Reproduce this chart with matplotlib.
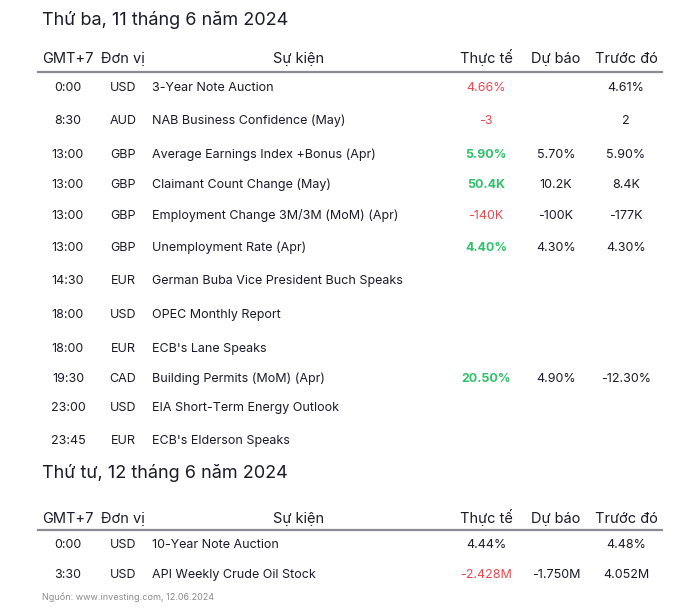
"""
Economic calendar (investing.com) for 11-12 June 2024, drawn as a text table.
"""

import matplotlib.pyplot as plt
from matplotlib.lines import Line2D

# Data
day1_title = "Thứ ba, 11 tháng 6 năm 2024"
day1_times = ["0:00", "8:30", "13:00", "13:00", "13:00", "13:00", "14:30",
              "18:00", "18:00", "19:30", "23:00", "23:45"]
day1_units = ["USD", "AUD", "GBP", "GBP", "GBP", "GBP", "EUR",
              "USD", "EUR", "CAD", "USD", "EUR"]
day1_events = ["3-Year Note Auction",
               "NAB Business Confidence (May)",
               "Average Earnings Index +Bonus (Apr)",
               "Claimant Count Change (May)",
               "Employment Change 3M/3M (MoM) (Apr)",
               "Unemployment Rate (Apr)",
               "German Buba Vice President Buch Speaks",
               "OPEC Monthly Report",
               "ECB's Lane Speaks",
               "Building Permits (MoM) (Apr)",
               "EIA Short-Term Energy Outlook",
               "ECB's Elderson Speaks"]
day1_actual = ["4.66%", "-3", "5.90%", "50.4K", "-140K", "4.40%", "",
               "", "", "20.50%", "", ""]
day1_signal = ["down", "down", "up", "up", "down", "up", "",
               "", "", "up", "", ""]
day1_forecast = ["", "", "5.70%", "10.2K", "-100K", "4.30%", "",
                 "", "", "4.90%", "", ""]
day1_previous = ["4.61%", "2", "5.90%", "8.4K", "-177K", "4.30%", "",
                 "", "", "-12.30%", "", ""]

day2_title = "Thứ tư, 12 tháng 6 năm 2024"
day2_times = ["0:00", "3:30"]
day2_units = ["USD", "USD"]
day2_events = ["10-Year Note Auction", "API Weekly Crude Oil Stock"]
day2_actual = ["4.44%", "-2.428M"]
day2_signal = ["", "down"]
day2_forecast = ["", "-1.750M"]
day2_previous = ["4.48%", "4.052M"]

headers = ["GMT+7", "Đơn vị", "Sự kiện", "Thực tế", "Dự báo", "Trước đó"]
source = "Nguồn: www.investing.com, 12.06.2024"

# Layout (pixels from top-left, y = text baseline)
W, H = 700, 610
FONT = ["Inter", "DejaVu Sans"]
TXT = "#1b1b2b"
SIG_COL = {"up": "#2fc26b", "down": "#f0474f", "": TXT}

fig = plt.figure(figsize=(W / 100, H / 100), dpi=100)
fig.patch.set_facecolor("white")


def put(x, y, s, **kw):
    kw.setdefault("family", FONT)
    kw.setdefault("color", TXT)
    kw.setdefault("va", "baseline")
    fig.text(x / W, 1 - y / H, s, **kw)


def section(title, title_y, head_y, line_y, row_ys, times, units, events,
            actual, signal, forecast, previous):
    put(42, title_y, title, fontsize=13, ha="left")
    put(42, head_y, headers[0], fontsize=10.5, ha="left")
    put(101, head_y, headers[1], fontsize=10.5, ha="left")
    put(299, head_y, headers[2], fontsize=10.5, ha="center")
    put(486, head_y, headers[3], fontsize=10.5, ha="center")
    put(556, head_y, headers[4], fontsize=10.5, ha="center")
    put(626, head_y, headers[5], fontsize=10.5, ha="center")
    fig.add_artist(Line2D([38 / W, 662 / W], [1 - line_y / H] * 2,
                          color="#8a8a94", lw=1.6))
    for i, y in enumerate(row_ys):
        put(68, y, times[i], fontsize=9, ha="center")
        put(123, y, units[i], fontsize=9, ha="center")
        put(152, y, events[i], fontsize=9, ha="left")
        bold = signal[i] == "up"
        put(486, y, actual[i], fontsize=9, ha="center",
            color=SIG_COL[signal[i]], fontweight="bold" if bold else "normal")
        put(556, y, forecast[i], fontsize=9, ha="center")
        put(626, y, previous[i], fontsize=9, ha="center")


section(day1_title, 25, 63, 72,
        [91, 124, 158, 188, 219, 251, 284, 318, 352, 382, 411, 444],
        day1_times, day1_units, day1_events, day1_actual, day1_signal,
        day1_forecast, day1_previous)
section(day2_title, 478, 523, 530, [548, 578],
        day2_times, day2_units, day2_events, day2_actual, day2_signal,
        day2_forecast, day2_previous)

put(42, 600, source, fontsize=6.5, ha="left", color="#8c8c8c")

plt.savefig("out.png", dpi=100)
plt.close()
